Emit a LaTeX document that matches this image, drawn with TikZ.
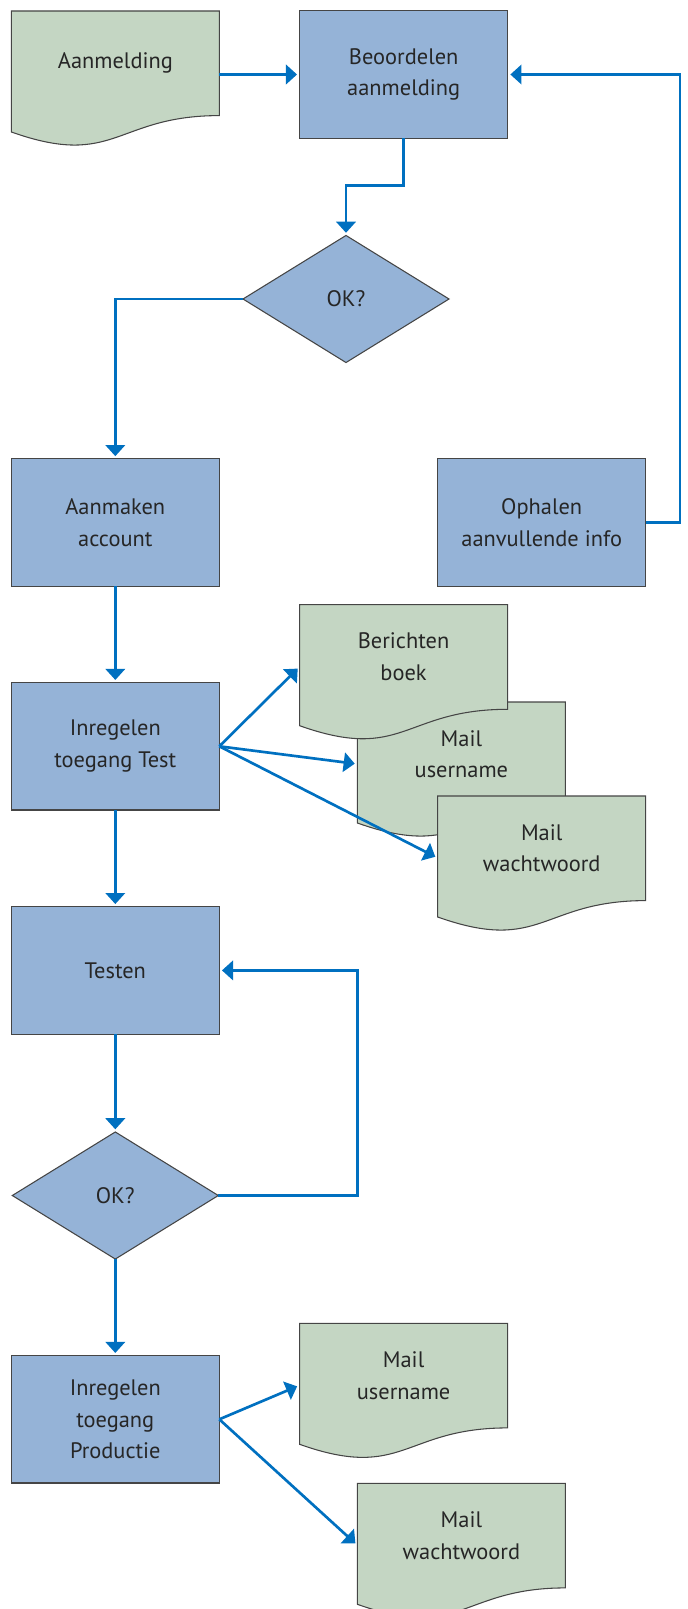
\documentclass[tikz,border=0pt]{standalone}
\usepackage{fontspec}
\setmainfont{PT Sans}
\usepackage{xcolor}
\usepackage{tikz}
\usetikzlibrary{calc,arrows.meta,positioning,shapes.geometric}
\definecolor{boxbg}{HTML}{95B3D7}
\definecolor{docbg}{HTML}{C4D6C3}
\definecolor{linex}{HTML}{0070C0}
\definecolor{edgex}{HTML}{454545}
\definecolor{inkx}{HTML}{262626}
\tikzset{
  flow/.style={-{Triangle[length=8.3pt,width=14.5pt]},line width=2pt,linex,shorten >=2pt},
  box/.style={draw=edgex,line width=0.8pt,fill=boxbg,minimum width=156pt,minimum height=95.5pt,align=center,inner sep=0pt,outer sep=0pt,text=inkx,font=\fontsize{16.8}{23.8}\selectfont},
  dec/.style={diamond,draw=edgex,line width=0.8pt,fill=boxbg,minimum width=154.5pt,minimum height=95.3pt,inner sep=0pt,outer sep=0pt,text=inkx,font=\fontsize{16.8}{23.8}\selectfont},
  docline/.style={draw=edgex,line width=0.8pt,fill=docbg},
  doc/.style={align=center,inner sep=0pt,text=inkx,font=\fontsize{16.8}{23.8}\selectfont}
}
% document sheet with wavy bottom: name, top left corner, text
\newcommand{\docpage}[3]{%
  \coordinate (#1-tl) at #2;
  \filldraw[docline] (#1-tl) -- ($(#1-tl)+(208,0)$) -- ($(#1-tl)+(208,104.6)$)
    .. controls ($(#1-tl)+(104,104.6)$) and ($(#1-tl)+(104,158)$) .. ($(#1-tl)+(0,121)$) -- cycle;
  \node[doc] (#1) at ($(#1-tl)+(104,52.3)$) {#3};
  \coordinate (#1-l) at ($(#1-tl)+(0,62)$);
  \coordinate (#1-r) at ($(#1-tl)+(208,63.5)$);
}

\begin{document}
\begin{tikzpicture}[x=0.75pt,y=-0.75pt]
\useasboundingbox (0,0) rectangle (687,1609);
% documents
\docpage{aan}{(11.4,11)}{Aanmelding}
\docpage{mu1}{(357.4,702)}{Mail\\username}
\docpage{ber}{(299.6,604.7)}{Berichten\\boek}
\docpage{mw1}{(437.7,796)}{Mail\\wachtwoord}
\docpage{mu2}{(299.6,1323.3)}{Mail\\username}
\docpage{mw2}{(357.4,1483.3)}{Mail\\wachtwoord}
% steps
\node[box] (beo) at (403.7,74.5) {Beoordelen\\aanmelding};
\node[dec] (ok1) at (346,299) {OK?};
\node[box] (acc) at (115.3,522.5) {Aanmaken\\account};
\node[box] (oph) at (541.7,522.5) {Ophalen\\aanvullende info};
\node[box] (itst) at (115.3,746.3) {Inregelen\\toegang Test};
\node[box] (tst) at (115.3,970.4) {Testen};
\node[dec] (ok2) at (115.3,1195.5) {OK?};
\node[box] (prd) at (115.3,1419.3) {Inregelen\\toegang\\Productie};
% flow
\draw[flow] (aan-r) -- (aan-r -| beo.west);
\draw[flow] (beo.south) -- ++(0,47.4) -| (ok1.north);
\draw[flow] (ok1.west) -| (acc.north);
\draw[flow] (oph.east) -- ++(34.3,0) |- (beo.east);
\draw[flow] (acc.south) -- (itst.north);
\draw[flow] (itst.east) -- (ber-l);
\draw[flow] (itst.east) -- (mu1-l);
\draw[flow] (itst.east) -- (mw1-l);
\draw[flow] (itst.south) -- (tst.north);
\draw[flow] (tst.south) -- (ok2.north);
\draw[flow] (ok2.east) -- ++(139,0) |- (tst.east);
\draw[flow] (ok2.south) -- (prd.north);
\draw[flow] (prd.east) -- (mu2-l);
\draw[flow] (prd.east) -- (mw2-l);
\end{tikzpicture}
\end{document}
